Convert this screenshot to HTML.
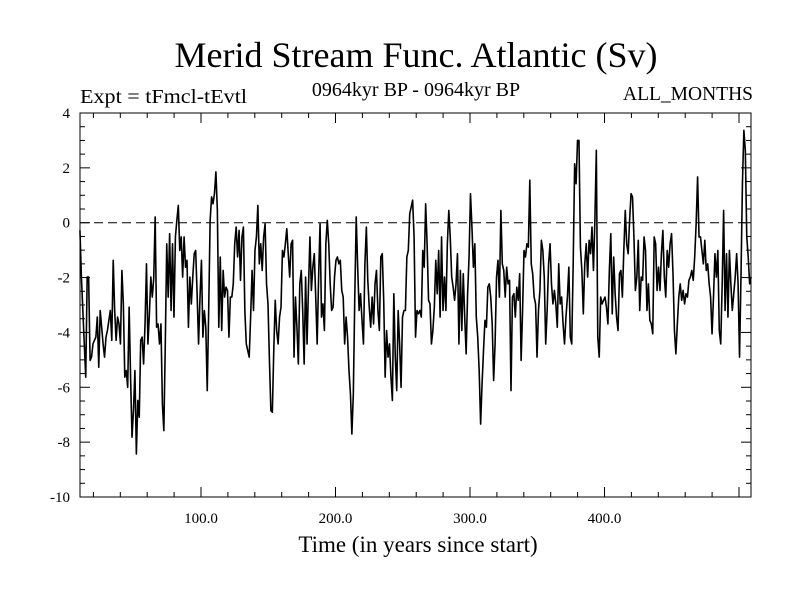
<!DOCTYPE html>
<html><head><meta charset="utf-8"><style>
body{margin:0;background:#fff}
svg{display:block;font-family:"Liberation Serif",serif}
</style></head><body>
<svg id="chart" width="800" height="600">
<text x="416" y="67" font-size="36" text-anchor="middle">Merid Stream Func. Atlantic (Sv)</text>
<text x="80" y="103" font-size="20" textLength="167" lengthAdjust="spacingAndGlyphs">Expt = tFmcl-tEvtl</text>
<text x="416" y="96" font-size="20" text-anchor="middle">0964kyr BP - 0964kyr BP</text>
<text x="753" y="100" font-size="19.5" text-anchor="end">ALL_MONTHS</text>
<text x="418" y="552" font-size="23" text-anchor="middle">Time (in years since start)</text>
<g id="axes"></g>
<g id="plot"></g>
</svg>
<script>
const yTickValues=[4,2,0,-2,-4,-6,-8,-10];
const xTickValues=[100,200,300,400];
const xTickLabels=["100.0","200.0","300.0","400.0"];
const yearStart=10, yearEnd=509;
const seg1=[-0.28,-1.98,-3.2,-4.42,-5.63,-1.98,-1.98,-5.02,-4.9,-4.42,-4.29,-4.17,-3.44,-5.27,-3.2,-3.81,-4.42,-4.9,-4.17,-3.93,-3.56,-3.2,-4.29,-1.37,-3.2,-4.29,-3.44,-3.69,-4.42,-1.74,-2.96,-5.63,-5.39,-6.0,-3.08,-5.63,-7.82,-6.85,-5.39,-8.43,-6.48,-7.09,-4.29,-4.17,-5.15,-3.69,-1.5,-4.42,-3.32,-1.98,-2.71,-2.04,0.21,-3.81,-3.69,-4.42,-3.69,-6.61,-7.58,-4.42,-0.77,-2.71,-0.4,-3.2,-0.77,-3.44,-0.52,0.09,0.63,-1.01,-0.52,-1.98];
const seg2=[-0.52,-1.62,-1.37,-3.81,-1.98,-2.96,-1.98,-1.13,-1.01,-2.59,-4.42,-2.71,-1.37,-4.17,-3.2,-3.81,-6.12,-3.2,0.09,0.94,0.69,1.06,1.85,0.45,-3.81,-1.25,-3.93,-1.74,-2.71,-2.35,-2.47,-4.17,-2.71,-2.71,-2.23,-0.77,-0.16,-1.25,-0.28,-2.1,-0.52,-0.16,-3.2,-4.42,-4.66,-4.9,-3.44,-1.74,-3.2,-1.01,-0.52,0.63,-1.5,-0.77,-1.74,-0.52,-0.04,-2.23,-2.96,-5.02,-6.85,-6.91,-4.66,-2.83,-3.93,-4.42,-3.44,-3.08,-1.01,-1.25,-0.77,-0.22,-1.13,-1.98,-0.77,-0.64,-4.9,-2.71,-3.81,-5.15,-2.23,-1.74];
const seg3=[-3.2,-5.15,-1.98,-4.42,-2.35,-0.52,-2.47,-1.62,-1.13,-2.71,-4.42,-1.98,-0.04,-3.44,-2.96,-3.93,-0.77,0.09,-0.77,-2.23,-3.2,-3.08,-1.98,-1.37,-1.25,-1.5,-1.37,-2.47,-2.71,-4.42,-3.44,-4.17,-5.39,-6.24,-7.7,-6.24,-2.71,0.21,-1.62,-3.2,-2.59,-3.56,-4.42,-1.5,-0.16,-2.1,-3.08,-3.81,-2.71,-3.69,-2.23,-1.74,-3.2,-3.93,-1.25,-1.13,-2.83,-5.63,-3.93,-4.9,-4.42,-5.63,-6.48,-2.59,-4.9,-6.12,-3.2,-4.42,-6.0,-3.44,-3.2,-3.2,-1.25,-1.01,0.33,0.57,0.82,-0.52,-4.17,-3.2,-3.32];
const seg4=[-3.2,-3.44,-1.01,-1.62,0.69,-0.77,-2.83,-2.96,-4.42,-3.93,-3.08,-1.37,-2.59,-1.01,-3.44,-0.52,-3.2,-1.98,-3.2,-0.77,0.45,-0.52,-1.98,-2.35,-2.83,-2.23,-1.13,-4.42,-1.74,-3.93,-1.86,-3.44,-4.78,-2.59,-1.25,1.06,-0.16,-1.62,-0.77,-3.44,-4.17,-5.39,-7.34,-5.88,-4.66,-3.56,-3.81,-2.35,-2.23,-2.71,-3.69,-5.75,-4.42,-1.98,-1.37,-2.71,0.45,-1.5,-1.74,-2.71,-1.62,-2.23,-2.1,-6.12,-2.71,-2.59,-3.44,-2.35,-2.83,-1.86,-5.02,-3.2,-1.01,-1.25,-0.77,-0.89];
const seg5=[1.55,-1.5,-1.86,-2.71,-2.96,-4.9,-3.2,-2.47,-0.64,-1.01,-1.98,-4.42,-3.2,-1.5,-0.77,-2.23,-2.96,-2.47,-2.96,-3.81,-1.5,-2.96,-2.71,-3.69,-4.42,-3.44,-2.71,-1.62,-4.17,-4.42,-1.5,2.15,1.42,3.0,3.0,-0.89,-1.74,-3.32,-1.5,-0.77,-1.98,-0.64,-1.13,-0.16,-1.74,0.09,2.64,-4.17,-4.9,-2.71,-2.96,-2.83,-2.71,-3.08,-3.69,-1.74,-0.4,-3.32,-1.25,-2.59,-3.44,-3.93,-1.86,-1.74,-2.71,-1.01,0.45,-0.77,-1.13,0.09,1.06,0.94,-0.52,-2.47,-1.98];
const seg6=[-0.64,-3.2,-1.98,-2.1,-0.52,-1.01,-3.2,-2.23,-3.56,-3.69,-4.05,-0.52,-0.77,-2.47,-1.62,-2.47,-1.13,-0.28,-1.98,-2.71,-1.01,-1.62,-0.77,-0.4,-1.86,-3.93,-4.78,-3.69,-2.71,-2.23,-2.83,-2.47,-2.96,-2.59,-2.71,-2.1,-1.98,-1.74,-2.1,-1.25,-0.04,1.67,-0.52,-0.52,-1.01,-1.5,-0.64,-1.74,-1.5,-2.23,-2.71,-4.05,-2.71,-1.13,-1.98,-1.01,-3.93,-4.42,-2.23,0.45,-3.2,-1.13,-3.44,-1.01,-2.23,-3.2,-2.59,-1.98,-1.13,-2.23,-4.9,-1.98,1.42,3.37,2.64,-0.52,-1.25,-2.23,-1.98];
const values=[].concat(seg1,seg2,seg3,seg4,seg5,seg6);

const L=80,R=751,T=113,B=497;
const yMin=-10,yMax=4;
const xScale=yr=>66.5+yr*1.345;
const yScale=v=>B-(v-yMin)/(yMax-yMin)*(B-T);
const NS="http://www.w3.org/2000/svg";
const axes=document.getElementById('axes'), plot=document.getElementById('plot');
function mk(tag,attrs,parent){const e=document.createElementNS(NS,tag);for(const k in attrs)e.setAttribute(k,attrs[k]);parent.appendChild(e);return e;}

const frame=mk('rect',{x:L,y:T,width:R-L,height:B-T,fill:'none',stroke:'#000','stroke-width':1},axes);



for(let v=yMin;v<=yMax+1e-9;v+=0.5){
  const y=yScale(v), major=Math.abs(v%2)<1e-9, len=major?10:5;
  const t1=mk('line',{x1:L,x2:L+len,y1:y,y2:y,stroke:'#000'},axes);
  
  
  const t2=mk('line',{x1:R,x2:R-len,y1:y,y2:y,stroke:'#000'},axes);
  
  
}
yTickValues.forEach(v=>{
  const t=mk('text',{x:70,y:yScale(v)+5,'font-size':15,'text-anchor':'end'},axes);
  t.textContent=String(v);
  
  
});
for(let yr=20;yr<=500;yr+=20){
  const x=xScale(yr); if(x<L||x>R)continue;
  const major=yr%100===0, len=major?10:5;
  const a=mk('line',{x1:x,x2:x,y1:B,y2:B-len,stroke:'#000'},axes);
  
  
  const b=mk('line',{x1:x,x2:x,y1:T,y2:T+len,stroke:'#000'},axes);
  
  
}
xTickValues.forEach((yr,i)=>{
  const t=mk('text',{x:xScale(yr),y:523,'font-size':15,'text-anchor':'middle'},axes);
  t.textContent=xTickLabels[i];
  
  
});
const zero=mk('line',{x1:L,x2:R,y1:yScale(0),y2:yScale(0),stroke:'#000','stroke-dasharray':'9,5','stroke-width':1},plot);



const n=values.length;
const pts=values.map((v,i)=>{const yr=yearStart+(yearEnd-yearStart)*i/(n-1);return xScale(yr).toFixed(2)+','+yScale(v).toFixed(2);}).join(' ');
const line=mk('polyline',{points:pts,fill:'none',stroke:'#000','stroke-width':1.6,'stroke-linejoin':'round'},plot);


</script>
</body></html>
